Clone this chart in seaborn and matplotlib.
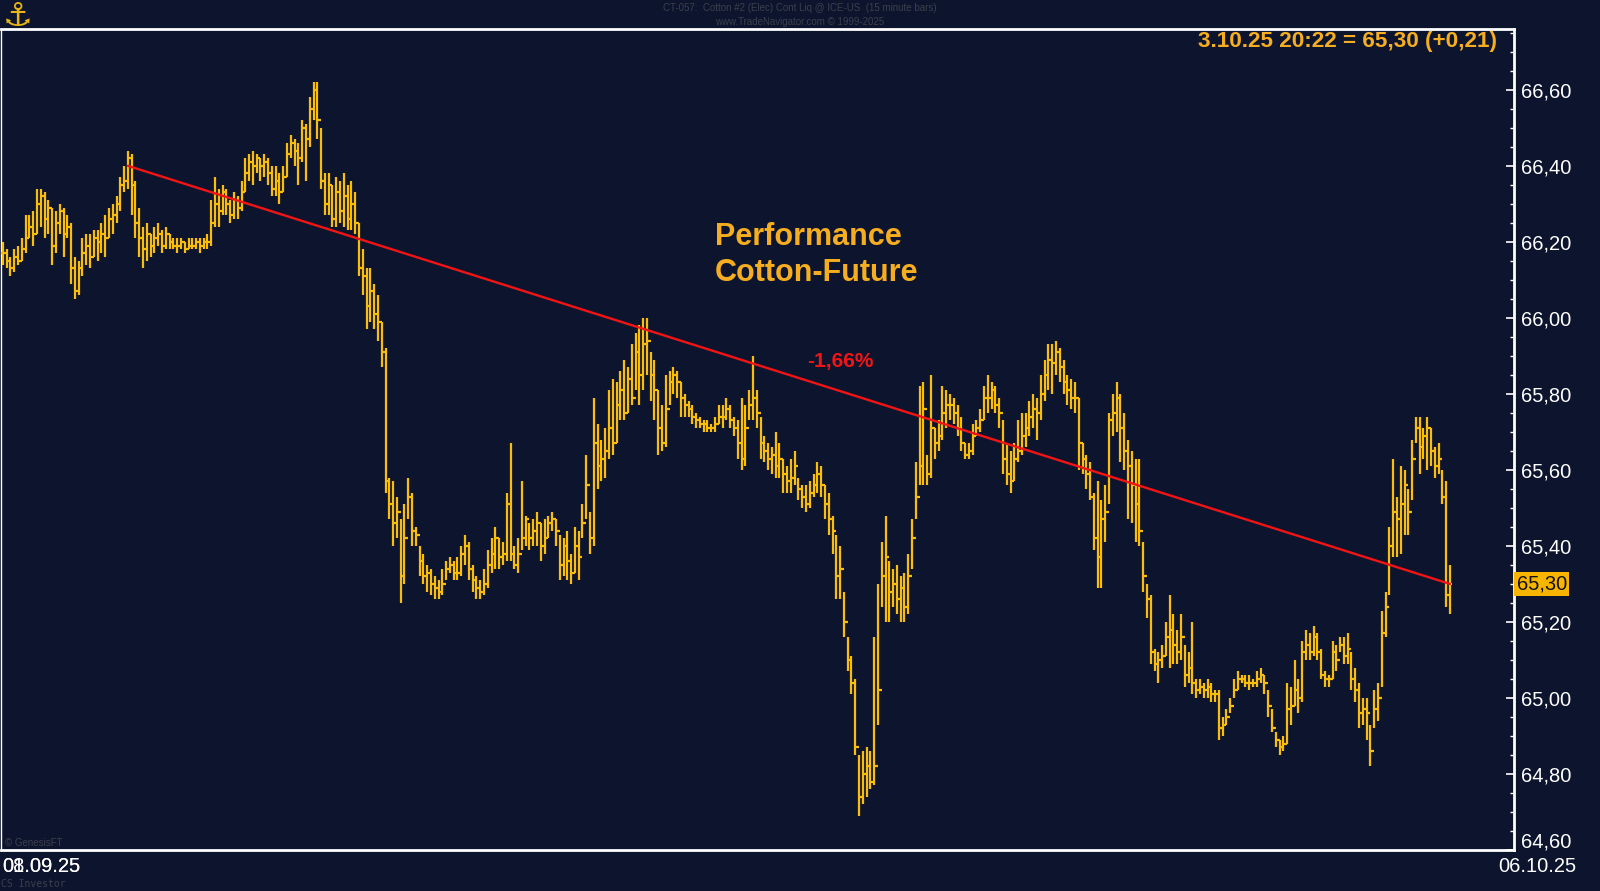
import numpy as np
import matplotlib
matplotlib.use("Agg")
import matplotlib.pyplot as plt
import matplotlib.transforms as mtransforms
from matplotlib.ticker import MultipleLocator, FuncFormatter
import seaborn as sns

# ---------------- data (15-minute bars, CT-057 Cotton #2) ----------------
highs = [
    66.20, 66.18, 66.16, 66.18, 66.19, 66.21, 66.27, 66.27, 66.28, 66.34,
    66.34, 66.33, 66.31, 66.29, 66.28, 66.30, 66.29, 66.27, 66.25, 66.16,
    66.15, 66.21, 66.22, 66.22, 66.23, 66.23, 66.25, 66.27, 66.29, 66.30,
    66.32, 66.37, 66.40, 66.44, 66.43, 66.36, 66.29, 66.24, 66.25, 66.22,
    66.24, 66.25, 66.23, 66.24, 66.22, 66.21, 66.21, 66.21, 66.20, 66.21,
    66.21, 66.21, 66.21, 66.21, 66.22, 66.31, 66.37, 66.34, 66.35, 66.34,
    66.31, 66.33, 66.32, 66.36, 66.42, 66.43, 66.44, 66.43, 66.42, 66.43,
    66.42, 66.40, 66.40, 66.38, 66.40, 66.46, 66.48, 66.47, 66.46, 66.52,
    66.51, 66.58, 66.62, 66.62, 66.50, 66.38, 66.38, 66.35, 66.37, 66.36,
    66.38, 66.35, 66.36, 66.33, 66.25, 66.18, 66.13, 66.13, 66.09, 66.06,
    65.99, 65.92, 65.58, 65.57, 65.53, 65.47, 65.51, 65.58, 65.54, 65.45,
    65.40, 65.38, 65.35, 65.34, 65.32, 65.31, 65.34, 65.36, 65.37, 65.36,
    65.37, 65.40, 65.43, 65.41, 65.35, 65.32, 65.31, 65.34, 65.39, 65.42,
    65.45, 65.42, 65.41, 65.54, 65.67, 65.40, 65.42, 65.57, 65.48, 65.46,
    65.47, 65.49, 65.46, 65.47, 65.48, 65.49, 65.47, 65.43, 65.42, 65.44,
    65.38, 65.45, 65.44, 65.51, 65.64, 65.49, 65.79, 65.72, 65.68, 65.71,
    65.81, 65.84, 65.83, 65.86, 65.89, 65.87, 65.93, 65.96, 65.98, 66.00,
    66.00, 65.91, 65.89, 65.81, 65.77, 65.85, 65.86, 65.87, 65.86, 65.83,
    65.80, 65.78, 65.77, 65.75, 65.74, 65.73, 65.73, 65.72, 65.74, 65.77,
    65.77, 65.79, 65.77, 65.74, 65.73, 65.79, 65.77, 65.81, 65.90, 65.81,
    65.74, 65.69, 65.67, 65.66, 65.70, 65.67, 65.63, 65.61, 65.63, 65.65,
    65.58, 65.56, 65.56, 65.57, 65.59, 65.62, 65.61, 65.56, 65.54, 65.48,
    65.43, 65.40, 65.28, 65.16, 65.11, 65.05, 64.85, 64.86, 64.87, 64.86,
    65.16, 65.30, 65.41, 65.48, 65.36, 65.34, 65.35, 65.32, 65.33, 65.38,
    65.47, 65.62, 65.82, 65.83, 65.64, 65.85, 65.71, 65.73, 65.82, 65.81,
    65.80, 65.79, 65.77, 65.74, 65.67, 65.67, 65.72, 65.73, 65.76, 65.82,
    65.85, 65.83, 65.82, 65.79, 65.73, 65.67, 65.65, 65.67, 65.73, 65.75,
    65.75, 65.78, 65.80, 65.79, 65.85, 65.89, 65.93, 65.93, 65.94, 65.92,
    65.89, 65.85, 65.84, 65.83, 65.79, 65.67, 65.64, 65.62, 65.54, 65.57,
    65.52, 65.56, 65.75, 65.80, 65.83, 65.80, 65.75, 65.68, 65.65, 65.63,
    65.63, 65.41, 65.30, 65.27, 65.13, 65.12, 65.14, 65.20, 65.27, 65.22,
    65.18, 65.22, 65.14, 65.12, 65.20, 65.05, 65.05, 65.04, 65.05, 65.04,
    65.02, 65.02, 64.95, 64.97, 65.00, 65.05, 65.07, 65.06, 65.06, 65.06,
    65.05, 65.07, 65.08, 65.06, 65.02, 64.97, 64.91, 64.89, 64.90, 65.04,
    65.03, 65.10, 65.05, 65.15, 65.18, 65.17, 65.19, 65.17, 65.13, 65.07,
    65.06, 65.15, 65.14, 65.16, 65.16, 65.17, 65.12, 65.08, 65.04, 65.00,
    65.00, 64.93, 65.02, 65.04, 65.23, 65.28, 65.45, 65.63, 65.53, 65.61,
    65.60, 65.55, 65.68, 65.74, 65.74, 65.71, 65.74, 65.71, 65.66, 65.67,
    65.60, 65.57, 65.35,
]
lows = [
    66.14, 66.13, 66.11, 66.12, 66.14, 66.15, 66.17, 66.21, 66.19, 66.22,
    66.24, 66.21, 66.22, 66.14, 66.17, 66.22, 66.16, 66.21, 66.09, 66.05,
    66.06, 66.11, 66.14, 66.13, 66.16, 66.15, 66.17, 66.16, 66.21, 66.22,
    66.25, 66.28, 66.33, 66.34, 66.27, 66.21, 66.16, 66.13, 66.15, 66.16,
    66.17, 66.19, 66.17, 66.18, 66.18, 66.18, 66.17, 66.18, 66.17, 66.18,
    66.18, 66.18, 66.17, 66.18, 66.18, 66.19, 66.24, 66.24, 66.27, 66.27,
    66.25, 66.26, 66.26, 66.28, 66.33, 66.36, 66.35, 66.38, 66.36, 66.37,
    66.35, 66.32, 66.32, 66.30, 66.33, 66.37, 66.42, 66.40, 66.35, 66.41,
    66.36, 66.45, 66.52, 66.47, 66.34, 66.27, 66.27, 66.24, 66.24, 66.25,
    66.24, 66.23, 66.23, 66.22, 66.11, 66.06, 65.97, 65.99, 65.97, 65.94,
    65.87, 65.54, 65.47, 65.40, 65.42, 65.25, 65.30, 65.47, 65.40, 65.40,
    65.32, 65.30, 65.28, 65.27, 65.26, 65.26, 65.27, 65.31, 65.33, 65.31,
    65.31, 65.32, 65.35, 65.31, 65.28, 65.26, 65.26, 65.27, 65.29, 65.33,
    65.34, 65.34, 65.35, 65.36, 65.36, 65.34, 65.33, 65.39, 65.40, 65.39,
    65.40, 65.40, 65.36, 65.38, 65.42, 65.44, 65.40, 65.31, 65.32, 65.31,
    65.30, 65.33, 65.31, 65.42, 65.47, 65.38, 65.40, 65.55, 65.57, 65.58,
    65.63, 65.64, 65.67, 65.73, 65.73, 65.75, 65.77, 65.81, 65.77, 65.81,
    65.85, 65.78, 65.73, 65.64, 65.65, 65.66, 65.77, 65.80, 65.79, 65.74,
    65.74, 65.74, 65.72, 65.71, 65.71, 65.70, 65.70, 65.70, 65.70, 65.72,
    65.71, 65.73, 65.71, 65.69, 65.63, 65.60, 65.61, 65.73, 65.73, 65.71,
    65.63, 65.62, 65.60, 65.59, 65.58, 65.58, 65.54, 65.54, 65.54, 65.56,
    65.52, 65.50, 65.49, 65.50, 65.53, 65.54, 65.53, 65.47, 65.43, 65.38,
    65.26, 65.26, 65.16, 65.07, 65.01, 64.85, 64.69, 64.72, 64.74, 64.76,
    64.77, 64.93, 65.24, 65.20, 65.20, 65.24, 65.22, 65.20, 65.20, 65.22,
    65.34, 65.47, 65.56, 65.56, 65.56, 65.58, 65.63, 65.65, 65.68, 65.71,
    65.73, 65.72, 65.69, 65.65, 65.63, 65.63, 65.64, 65.69, 65.70, 65.73,
    65.75, 65.76, 65.75, 65.71, 65.59, 65.56, 65.54, 65.57, 65.62, 65.64,
    65.66, 65.69, 65.71, 65.68, 65.73, 65.78, 65.81, 65.80, 65.85, 65.83,
    65.80, 65.77, 65.76, 65.75, 65.60, 65.59, 65.55, 65.52, 65.39, 65.29,
    65.29, 65.41, 65.51, 65.69, 65.70, 65.62, 65.60, 65.47, 65.46, 65.41,
    65.40, 65.28, 65.21, 65.09, 65.07, 65.04, 65.08, 65.11, 65.08, 65.09,
    65.09, 65.10, 65.03, 65.04, 65.01, 65.00, 65.01, 65.00, 65.00, 64.99,
    64.99, 64.89, 64.90, 64.93, 64.96, 65.00, 65.02, 65.04, 65.03, 65.02,
    65.03, 65.03, 65.04, 65.01, 64.95, 64.91, 64.87, 64.85, 64.86, 64.88,
    64.93, 64.98, 64.96, 64.99, 65.10, 65.10, 65.11, 65.10, 65.05, 65.03,
    65.03, 65.05, 65.07, 65.12, 65.09, 65.09, 65.02, 64.99, 64.92, 64.93,
    64.89, 64.82, 64.92, 64.94, 65.03, 65.16, 65.27, 65.37, 65.37, 65.38,
    65.43, 65.43, 65.52, 65.67, 65.59, 65.63, 65.60, 65.61, 65.58, 65.59,
    65.51, 65.24, 65.22,
]
closes = [
    66.17, 66.15, 66.13, 66.16, 66.15, 66.18, 66.21, 66.24, 66.22, 66.30,
    66.32, 66.26, 66.29, 66.19, 66.25, 66.28, 66.22, 66.24, 66.13, 66.07,
    66.13, 66.17, 66.19, 66.16, 66.21, 66.20, 66.22, 66.21, 66.26, 66.27,
    66.30, 66.35, 66.36, 66.42, 66.35, 66.25, 66.21, 66.18, 66.22, 66.19,
    66.21, 66.22, 66.19, 66.22, 66.20, 66.19, 66.19, 66.20, 66.18, 66.19,
    66.19, 66.20, 66.19, 66.20, 66.20, 66.25, 66.30, 66.28, 66.33, 66.30,
    66.27, 66.31, 66.29, 66.33, 66.38, 66.41, 66.40, 66.42, 66.40, 66.41,
    66.38, 66.34, 66.36, 66.33, 66.37, 66.43, 66.46, 66.44, 66.42, 66.50,
    66.47, 66.55, 66.60, 66.52, 66.36, 66.30, 66.35, 66.26, 66.33, 66.28,
    66.32, 66.26, 66.30, 66.25, 66.13, 66.11, 66.03, 66.07, 66.01, 65.99,
    65.91, 65.57, 65.51, 65.46, 65.49, 65.32, 65.42, 65.53, 65.44, 65.43,
    65.36, 65.32, 65.33, 65.30, 65.29, 65.28, 65.30, 65.34, 65.35, 65.33,
    65.33, 65.38, 65.40, 65.34, 65.31, 65.29, 65.28, 65.30, 65.35, 65.38,
    65.42, 65.37, 65.38, 65.51, 65.38, 65.35, 65.38, 65.42, 65.47, 65.42,
    65.44, 65.46, 65.40, 65.42, 65.46, 65.47, 65.44, 65.35, 65.40, 65.36,
    65.33, 65.40, 65.37, 65.46, 65.56, 65.42, 65.67, 65.61, 65.63, 65.65,
    65.71, 65.67, 65.77, 65.81, 65.75, 65.84, 65.79, 65.91, 65.85, 65.93,
    65.94, 65.85, 65.81, 65.71, 65.67, 65.76, 65.83, 65.85, 65.83, 65.79,
    65.77, 65.76, 65.74, 65.73, 65.72, 65.72, 65.71, 65.71, 65.72, 65.74,
    65.74, 65.76, 65.73, 65.71, 65.67, 65.63, 65.71, 65.77, 65.79, 65.75,
    65.67, 65.65, 65.63, 65.64, 65.61, 65.63, 65.59, 65.57, 65.58, 65.61,
    65.55, 65.53, 65.51, 65.54, 65.56, 65.59, 65.56, 65.51, 65.47, 65.44,
    65.32, 65.34, 65.20, 65.10, 65.04, 64.87, 64.74, 64.80, 64.82, 64.78,
    64.82, 65.02, 65.32, 65.37, 65.28, 65.30, 65.26, 65.29, 65.24, 65.32,
    65.42, 65.53, 65.61, 65.76, 65.59, 65.71, 65.67, 65.69, 65.75, 65.77,
    65.77, 65.75, 65.71, 65.67, 65.64, 65.65, 65.69, 65.71, 65.73, 65.79,
    65.79, 65.81, 65.77, 65.75, 65.63, 65.59, 65.57, 65.63, 65.65, 65.69,
    65.71, 65.74, 65.76, 65.75, 65.80, 65.85, 65.89, 65.88, 65.91, 65.87,
    65.83, 65.81, 65.79, 65.79, 65.67, 65.63, 65.59, 65.53, 65.42, 65.37,
    65.47, 65.49, 65.73, 65.75, 65.79, 65.71, 65.65, 65.61, 65.56, 65.51,
    65.44, 65.32, 65.26, 65.12, 65.09, 65.10, 65.11, 65.16, 65.18, 65.14,
    65.12, 65.16, 65.06, 65.08, 65.04, 65.02, 65.03, 65.02, 65.03, 65.01,
    65.01, 64.92, 64.93, 64.95, 64.98, 65.02, 65.05, 65.05, 65.04, 65.04,
    65.04, 65.05, 65.06, 65.04, 64.98, 64.92, 64.89, 64.87, 64.88, 64.97,
    64.98, 65.02, 65.00, 65.12, 65.14, 65.12, 65.16, 65.12, 65.06, 65.05,
    65.05, 65.12, 65.10, 65.14, 65.11, 65.13, 65.05, 65.02, 64.96, 64.97,
    64.96, 64.86, 64.97, 65.00, 65.17, 65.24, 65.40, 65.49, 65.47, 65.51,
    65.56, 65.49, 65.63, 65.71, 65.66, 65.69, 65.71, 65.65, 65.61, 65.63,
    65.53, 65.27, 65.30,
]
trend_x = [33, 382]
trend_y = [66.40, 65.30]
last_price = 65.30
y_ticks = [64.60, 64.80, 65.00, 65.20, 65.40, 65.60, 65.80, 66.00, 66.20, 66.40, 66.60]
date_left = ["01.09.25", "08.09.25"]
date_right = "06.10.25"
title_line1 = "CT-057:  Cotton #2 (Elec) Cont Liq @ ICE-US  (15 minute bars)"
title_line2 = "www.TradeNavigator.com \u00a9 1999-2025"
info_text = "3.10.25 20:22 = 65,30 (+0,21)"
perf_text = "Performance\nCotton-Future"
pct_text = "-1,66%"

# ---------------- style ----------------
BG = "#0d152e"
BAR = "#fbbd0b"
ORANGE = "#f6ad1f"
RED = "#f21414"
WHITE = "#ffffff"

sns.set_style("dark")
plt.rcParams["font.family"] = ["Liberation Sans", "DejaVu Sans"]

W, H = 1600, 891
fig = plt.figure(figsize=(16, 8.91), dpi=100, facecolor=BG)
ax = fig.add_axes([1 / W, 1 - 850 / H, 1513 / W, 821 / H])
ax.set_facecolor(BG)

n = len(highs)
xs = np.arange(n)
h = np.array(highs)
l = np.array(lows)
c = np.array(closes)
o = np.r_[c[0], c[:-1]]

ax.vlines(xs, l, h, color=BAR, lw=1.6, zorder=3)
ax.hlines(o, xs - 0.5, xs, color=BAR, lw=1.6, zorder=3)
ax.hlines(c, xs, xs + 0.5, color=BAR, lw=1.6, zorder=3)

sns.lineplot(x=trend_x, y=trend_y, ax=ax, color=RED, lw=1.7, zorder=4)

ax.set_xlim(-0.5, 398.9)
ax.set_ylim(64.60, 66.76)

ax.grid(False)
ax.set_xticks([])
ax.set_xlabel("")
ax.set_ylabel("")
ax.yaxis.tick_right()
ax.set_yticks(y_ticks)
ax.yaxis.set_minor_locator(MultipleLocator(0.05))
bottom_tick = y_ticks[0]


def fmt(v, p):
    if abs(v - bottom_tick) < 1e-6:
        return ""
    return f"{v:.2f}".replace(".", ",")


ax.yaxis.set_major_formatter(FuncFormatter(fmt))
ax.tick_params(axis="y", which="major", direction="in", length=6, width=1.2,
               colors=WHITE, labelsize=14.5, pad=5, right=True, left=False)
ax.tick_params(axis="y", which="minor", direction="in", length=3, width=1.0,
               colors=WHITE, right=True, left=False)

for side in ["top", "bottom", "right"]:
    ax.spines[side].set_color(WHITE)
    ax.spines[side].set_linewidth(2)
    ax.spines[side].set_visible(True)
ax.spines["left"].set_color(WHITE)
ax.spines["left"].set_linewidth(1)

trans = mtransforms.blended_transform_factory(ax.transAxes, ax.transData)
# bottom tick label, lifted above the frame edge as in the reference
ax.annotate(f"{bottom_tick:.2f}".replace(".", ","), xy=(1.0, bottom_tick), xycoords=trans,
            xytext=(5, 6), textcoords="offset points", ha="left", va="center",
            fontsize=14.5, color=WHITE, annotation_clip=False)

# last price marker
ax.annotate(f"{last_price:.2f}".replace(".", ","), xy=(1.0, last_price), xycoords=trans,
            xytext=(2, 0), textcoords="offset points", ha="left", va="center",
            fontsize=14.5, color="#111111",
            bbox=dict(boxstyle="square,pad=0.12", fc="#f8b500", ec="none"),
            zorder=6, annotation_clip=False)


def fx(px):
    return px / W


def fy(py):
    return 1 - py / H


# annotations
fig.text(fx(715), fy(255), perf_text, ha="left", va="center", fontsize=22,
         fontweight="bold", color=ORANGE, linespacing=1.25)
fig.text(fx(840), fy(361), pct_text, ha="center", va="center", fontsize=15,
         fontweight="bold", color=RED)
fig.text(fx(1497), fy(42), info_text, ha="right", va="center", fontsize=16.2,
         fontweight="bold", color=ORANGE)

# header
fig.text(fx(800), fy(8), title_line1, ha="center", va="center", fontsize=7,
         color="#3c3f4c", fontstretch="condensed")
fig.text(fx(800), fy(22), title_line2, ha="center", va="center", fontsize=7,
         color="#3c3f4c")
fig.text(fx(18), fy(16), "\u2693", ha="center", va="center", fontsize=24,
         color="#e8b417", family="DejaVu Sans", fontweight="bold")

# dates
for d in date_left:
    fig.text(fx(2), fy(866), d, ha="left", va="center", fontsize=14.5, color=WHITE)
fig.text(fx(1537), fy(866), date_right, ha="center", va="center", fontsize=14.5, color=WHITE)

# small credits
fig.text(fx(5), fy(843), "\u00a9 GenesisFT", ha="left", va="center", fontsize=7,
         color="#3c3f4c")
fig.text(fx(1), fy(884), "CS Investor", ha="left", va="center", fontsize=7,
         color="#3c3f4c", family="DejaVu Sans Mono")

fig.savefig("out.png", dpi=100, facecolor=BG)
